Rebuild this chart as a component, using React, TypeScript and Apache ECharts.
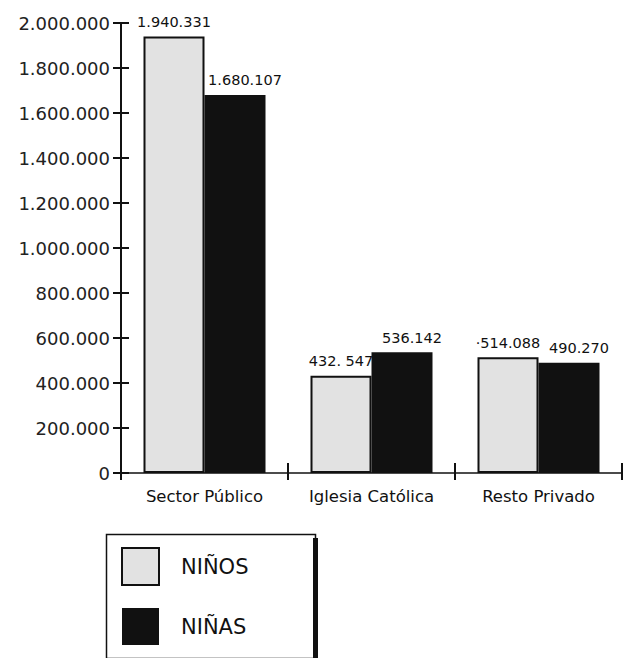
import React, { useEffect, useRef } from "react";
import * as echarts from "echarts";

const categories = ["Sector Público", "Iglesia Católica", "Resto Privado"];
const ninos = [1940331, 432547, 514088];
const ninas = [1680107, 536142, 490270];
const ninosLabels = ["1.940.331", "432. 547", "·514.088"];
const ninasLabels = ["1.680.107", "536.142", "490.270"];
const yTicks = [0, 200000, 400000, 600000, 800000, 1000000, 1200000, 1400000, 1600000, 1800000, 2000000];

const FONT = "'DejaVu Sans', Verdana, sans-serif";

function fmt(v: number): string {
  return String(v).replace(/\B(?=(\d{3})+(?!\d))/g, ".");
}

export default function App() {
  const ref = useRef<HTMLDivElement>(null);
  useEffect(() => {
    document.body.style.margin = "0";
    if (!ref.current) return;
    const chart = echarts.init(ref.current, null, { renderer: "svg" });
    const yMax = yTicks[yTicks.length - 1];
    const yInt = yTicks[1] - yTicks[0];
    chart.setOption({
      animation: false,
      backgroundColor: "#ffffff",
      grid: { left: 121, right: 10, top: 23, bottom: 185 },
      legend: {
        orient: "vertical",
        left: 121,
        top: 547,
        itemWidth: 37,
        itemHeight: 37,
        itemGap: 22,
        padding: 0,
        textStyle: { fontSize: 21, color: "#111", fontFamily: FONT, padding: [0, 0, 0, 17] },
        data: [
          { name: "NIÑOS", icon: "rect", itemStyle: { color: "#e2e2e2", borderColor: "#111", borderWidth: 2 } },
          { name: "NIÑAS", icon: "rect", itemStyle: { color: "#111" } },
        ],
      },
      graphic: [
        { type: "rect", left: 104, top: 532, shape: { width: 209, height: 124 }, style: { fill: "none", stroke: "#111", lineWidth: 1.5 }, z: 100 },
        { type: "rect", left: 313, top: 538, shape: { width: 5, height: 120 }, style: { fill: "#111" }, z: 100 },
      ],
      xAxis: [
        {
          type: "category",
          data: categories,
          axisLine: { lineStyle: { color: "#111", width: 1.5 } },
          axisTick: { show: true, length: 7, lineStyle: { color: "#111", width: 2 } },
          axisLabel: { color: "#111", fontSize: 16.5, fontFamily: FONT, margin: 15, interval: 0, hideOverlap: false },
        },
        {
          type: "category",
          data: categories,
          position: "bottom",
          axisLine: { show: false },
          axisTick: { show: true, inside: true, length: 10, lineStyle: { color: "#111", width: 2 } },
          axisLabel: { show: false },
        },
      ],
      yAxis: [
        {
          type: "value",
          min: 0,
          max: yMax,
          interval: yInt,
          splitLine: { show: false },
          axisLine: { show: true, lineStyle: { color: "#111", width: 2 } },
          axisTick: { show: true, length: 8, lineStyle: { color: "#111", width: 2 } },
          axisLabel: { color: "#222", fontSize: 18, fontFamily: FONT, margin: 11, formatter: (v: number) => fmt(v) },
        },
        {
          type: "value",
          min: 0,
          max: yMax,
          interval: yInt,
          position: "left",
          splitLine: { show: false },
          axisLine: { show: false },
          axisTick: { show: true, inside: true, length: 8, lineStyle: { color: "#111", width: 2 } },
          axisLabel: { show: false },
        },
      ],
      series: [
        {
          name: "NIÑOS",
          type: "bar",
          data: ninos,
          barWidth: 61,
          barGap: "0%",
          itemStyle: { color: "#e2e2e2", borderColor: "#111", borderWidth: 2 },
          label: {
            show: true,
            position: "top",
            distance: 7,
            fontSize: 14.5,
            color: "#111",
            fontFamily: FONT,
            formatter: (p: any) => ninosLabels[p.dataIndex],
          },
        },
        {
          name: "NIÑAS",
          type: "bar",
          data: ninas,
          barWidth: 61,
          itemStyle: { color: "#111" },
          label: {
            show: true,
            position: "top",
            distance: 7,
            offset: [10, 0],
            fontSize: 14.5,
            color: "#111",
            fontFamily: FONT,
            formatter: (p: any) => ninasLabels[p.dataIndex],
          },
        },
      ],
    });
    return () => chart.dispose();
  }, []);
  return <div ref={ref} style={{ width: 632, height: 658 }} />;
}
